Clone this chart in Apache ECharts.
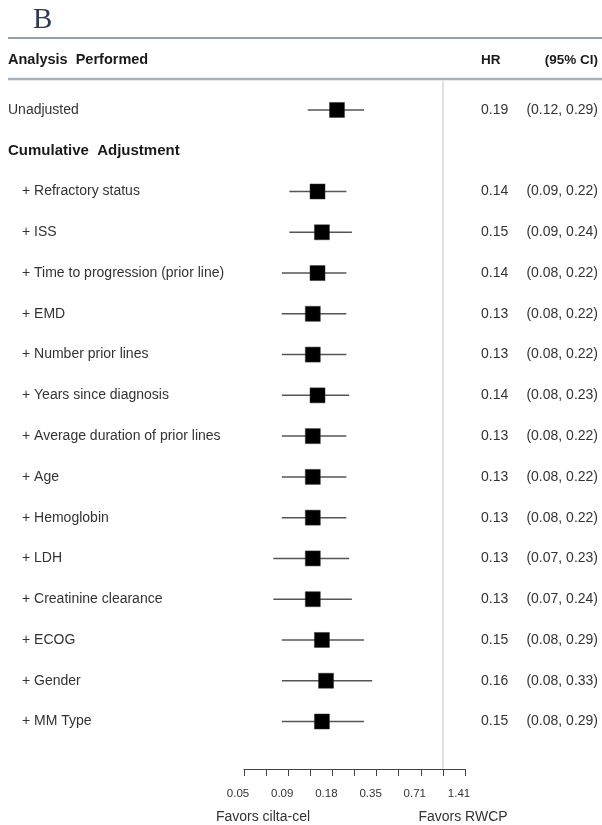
<!DOCTYPE html>
<html>
<head>
<meta charset="utf-8">
<script src="https://cdn.jsdelivr.net/npm/echarts@6/dist/echarts.min.js"></script>
<style>
  html, body { margin: 0; padding: 0; background: #ffffff; }
  #chart { width: 602px; height: 825px; }
</style>
</head>
<body>
<div id="chart"></div>
<script>
// Forest plot rows, top to bottom
const rowLabels = [
  'Unadjusted',
  'Cumulative Adjustment',
  '+ Refractory status',
  '+ ISS',
  '+ Time to progression (prior line)',
  '+ EMD',
  '+ Number prior lines',
  '+ Years since diagnosis',
  '+ Average duration of prior lines',
  '+ Age',
  '+ Hemoglobin',
  '+ LDH',
  '+ Creatinine clearance',
  '+ ECOG',
  '+ Gender',
  '+ MM Type'
];
// Section heading rows carry no estimate
const headingRows = ['Cumulative Adjustment'];

// Hazard ratios and 95% confidence limits (null = no estimate on that row)
const hrValues = [0.19, null, 0.14, 0.15, 0.14, 0.13, 0.13, 0.14, 0.13, 0.13, 0.13, 0.13, 0.13, 0.15, 0.16, 0.15];
const ciLower  = [0.12, null, 0.09, 0.09, 0.08, 0.08, 0.08, 0.08, 0.08, 0.08, 0.08, 0.07, 0.07, 0.08, 0.08, 0.08];
const ciUpper  = [0.29, null, 0.22, 0.24, 0.22, 0.22, 0.22, 0.23, 0.22, 0.22, 0.22, 0.23, 0.24, 0.29, 0.33, 0.29];

// Axis tick labels, one per doubling of the HR (ticks every factor of sqrt(2))
const tickLabels = ['0.05', '0.09', '0.18', '0.35', '0.71', '1.41'];
const columnHeaders = ['Analysis Performed', 'HR', '(95% CI)'];
const sideLabels = ['Favors cilta-cel', 'Favors RWCP'];
const panelLetter = 'B';

const FONT = "'Liberation Sans', Arial, sans-serif";
const fmt2 = v => v.toFixed(2);
// bold headings are set with a wide word gap
const wideGap = s => s.replace(/ /g, '  ');

const chart = echarts.init(document.getElementById('chart'), null, { renderer: 'canvas' });

// estimates in log2 space so the value axis behaves as a log-2 scale
const forestData = hrValues
  .map((hr, i) => hr == null ? null : [Math.log2(hr), i, Math.log2(ciLower[i]), Math.log2(ciUpper[i])])
  .filter(d => d);

const textData = rowLabels.map((label, i) => [0, i]);

const option = {
  animation: false,
  backgroundColor: '#ffffff',
  grid: { left: 244, right: 137, top: 80, bottom: 56, containLabel: false },
  xAxis: {
    type: 'value',
    min: -4.5,
    max: 0.5,
    interval: 0.5,
    splitLine: { show: false },
    axisLine: { show: true, onZero: false, lineStyle: { color: '#444444', width: 1 } },
    axisTick: { show: true, length: 7, inside: false, lineStyle: { color: '#444444', width: 1 } },
    axisLabel: {
      show: true,
      interval: 0,
      margin: 19,
      fontFamily: FONT,
      fontSize: 11.5,
      color: '#333333',
      padding: [0, 12, 0, 0],
      formatter: v => {
        const idx = Math.round((v + 4.5) / 0.5);
        return idx % 2 === 0 ? tickLabels[idx / 2] : '';
      }
    }
  },
  yAxis: {
    type: 'value',
    inverse: true,
    min: -0.735,
    max: 16.165,
    show: false
  },
  series: [
    {
      // reference line at HR = 1
      type: 'line',
      data: [],
      markLine: {
        silent: true,
        symbol: 'none',
        label: { show: false },
        lineStyle: { color: '#e2e2e2', width: 2, type: 'solid' },
        data: [{ xAxis: 0 }]
      }
    },
    {
      // confidence interval whiskers and HR squares
      type: 'custom',
      clip: false,
      data: forestData,
      renderItem: (params, api) => {
        const mid = api.coord([api.value(0), api.value(1)]);
        const lo = api.coord([api.value(2), api.value(1)]);
        const hi = api.coord([api.value(3), api.value(1)]);
        const s = 15;
        return {
          type: 'group',
          children: [
            {
              type: 'line',
              shape: { x1: lo[0], y1: lo[1], x2: hi[0], y2: hi[1] },
              style: { stroke: '#555555', lineWidth: 1.5 }
            },
            {
              type: 'rect',
              shape: { x: mid[0] - s / 2, y: mid[1] - s / 2, width: s, height: s },
              style: { fill: '#000000', stroke: '#333333', lineWidth: 0.5 }
            }
          ]
        };
      }
    },
    {
      // row labels and the HR / CI text columns
      type: 'custom',
      clip: false,
      data: textData,
      renderItem: (params, api) => {
        const i = api.value(1);
        const y = api.coord([0, i])[1];
        const label = rowLabels[i];
        const isHeading = headingRows.indexOf(label) >= 0;
        const isSub = label.charAt(0) === '+';
        const children = [{
          type: 'text',
          x: isSub ? 22 : 8,
          y: y,
          style: {
            text: isHeading ? wideGap(label) : label,
            fill: isHeading ? '#1a1a1a' : '#333333',
            font: (isHeading ? 'bold 15px ' : '14px ') + FONT,
            textAlign: 'left', textVerticalAlign: 'middle',
            align: 'left', verticalAlign: 'middle'
          }
        }];
        if (hrValues[i] != null) {
          children.push({
            type: 'text', x: 481, y: y,
            style: {
              text: fmt2(hrValues[i]), fill: '#333333', font: '14px ' + FONT,
              textAlign: 'left', textVerticalAlign: 'middle', align: 'left', verticalAlign: 'middle'
            }
          });
          children.push({
            type: 'text', x: 598, y: y,
            style: {
              text: '(' + fmt2(ciLower[i]) + ', ' + fmt2(ciUpper[i]) + ')', fill: '#333333', font: '14px ' + FONT,
              textAlign: 'right', textVerticalAlign: 'middle', align: 'right', verticalAlign: 'middle'
            }
          });
        }
        return { type: 'group', children: children };
      }
    }
  ],
  graphic: [
    {
      type: 'text', x: 33, y: 20,
      style: { text: panelLetter, fill: '#2d3b55', font: '29px "Liberation Serif", "DejaVu Serif", serif', textVerticalAlign: 'middle', verticalAlign: 'middle' }
    },
    {
      type: 'line', shape: { x1: 8, y1: 38, x2: 602, y2: 38 },
      style: { stroke: '#6f7f94', lineWidth: 1.5 }
    },
    {
      type: 'line', shape: { x1: 8, y1: 79, x2: 602, y2: 79 },
      style: { stroke: '#a6b2bd', lineWidth: 2.5 }
    },
    {
      type: 'text', x: 8, y: 60,
      style: { text: wideGap(columnHeaders[0]), fill: '#1a1a1a', font: 'bold 14.5px ' + FONT, textVerticalAlign: 'middle', verticalAlign: 'middle' }
    },
    {
      type: 'text', x: 481, y: 60,
      style: { text: columnHeaders[1], fill: '#1a1a1a', font: 'bold 13.5px ' + FONT, textAlign: 'left', align: 'left', textVerticalAlign: 'middle', verticalAlign: 'middle' }
    },
    {
      type: 'text', x: 598, y: 60,
      style: { text: columnHeaders[2], fill: '#1a1a1a', font: 'bold 13.5px ' + FONT, textAlign: 'right', align: 'right', textVerticalAlign: 'middle', verticalAlign: 'middle' }
    },
    {
      type: 'text', x: 263, y: 817,
      style: { text: sideLabels[0], fill: '#333333', font: '14px ' + FONT, textAlign: 'center', align: 'center', textVerticalAlign: 'middle', verticalAlign: 'middle' }
    },
    {
      type: 'text', x: 463, y: 817,
      style: { text: sideLabels[1], fill: '#333333', font: '14px ' + FONT, textAlign: 'center', align: 'center', textVerticalAlign: 'middle', verticalAlign: 'middle' }
    }
  ]
};

chart.setOption(option);
</script>
</body>
</html>
